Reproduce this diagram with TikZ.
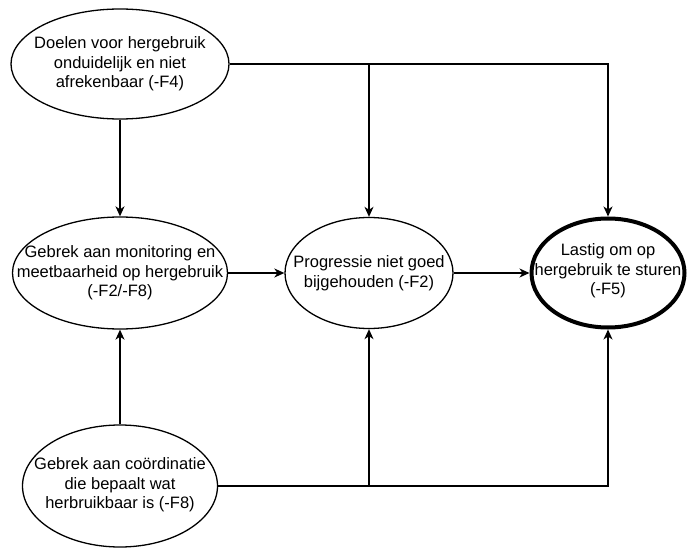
\documentclass[tikz,border=0pt]{standalone}
\usepackage{fontspec}
\setmainfont{Liberation Sans}
\usetikzlibrary{shapes.geometric,arrows.meta}
\begin{document}
\begin{tikzpicture}[x=1bp,y=-1bp,
  bubble/.style={ellipse,draw,line width=1.3bp,inner sep=0pt},
  heavybubble/.style={bubble,line width=4bp},
  btext/.style={align=center,font=\fontsize{16.5bp}{19.5bp}\selectfont,inner sep=0pt},
  link/.style={line width=1.3bp,-{Stealth[length=10bp,width=9bp,inset=3bp]}}
]
\fill[white] (0,0) rectangle (687,548);
\useasboundingbox (0,0) rectangle (687,548);

% causes and effects
\node[bubble,minimum width=218bp,minimum height=110bp] (goals) at (120,64) {};
\node[btext] (goalsT) at (goals) {Doelen voor hergebruik\\onduidelijk en niet\\afrekenbaar (-F4)};

\node[bubble,minimum width=215bp,minimum height=112bp] (monitoring) at (120,273) {};
\node[btext] (monitoringT) at (monitoring) {Gebrek aan monitoring en\\meetbaarheid op hergebruik\\(-F2/-F8)};

\node[bubble,minimum width=168bp,minimum height=111bp] (progress) at (369,273) {};
\node[btext] (progressT) at (progress) {Progressie niet goed\\bijgehouden (-F2)};

\node[heavybubble,minimum width=153bp,minimum height=109bp] (steer) at (608,273) {};
\node[btext] (steerT) at ([yshift=2bp]steer.center) {Lastig om op\\hergebruik te sturen\\(-F5)};

\node[bubble,minimum width=195bp,minimum height=122bp] (coord) at (120,486) {};
\node[btext] (coordT) at ([yshift=1bp]coord.center) {Gebrek aan co\"ordinatie\\die bepaalt wat\\herbruikbaar is (-F8)};

% connectors
\draw[link] (goals.south) -- (monitoring.north);
\draw[link] (goals.east) -| (progress.north);
\draw[link] (goals.east) -| (steer.north);
\draw[link] (monitoring.east) -- (progress.west);
\draw[link] (progress.east) -- (steer.west);
\draw[link] (coord.north) -- (monitoring.south);
\draw[link] (coord.east) -| (progress.south);
\draw[link] (coord.east) -| (steer.south);
\end{tikzpicture}
\end{document}
